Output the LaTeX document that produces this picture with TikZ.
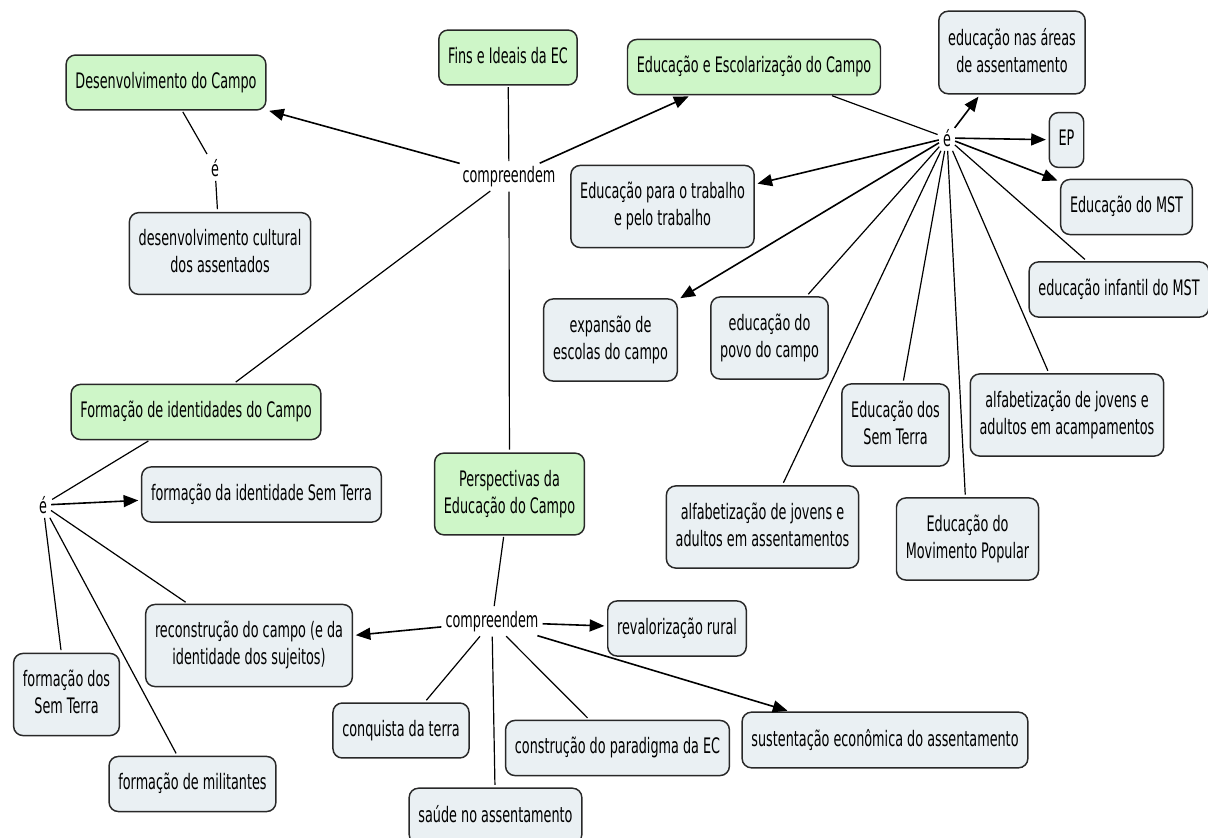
\documentclass[tikz,border=0pt]{standalone}
\usepackage{fontspec}
\setmainfont{DejaVu Sans}[FakeStretch=0.6]
\usetikzlibrary{arrows.meta}
\definecolor{cmapgreen}{RGB}{206,246,200}
\definecolor{cmapblue}{RGB}{234,240,243}
\definecolor{cmapline}{RGB}{40,40,40}
\newcommand{\mapstrut}{\vrule width 0pt height 12.3pt depth 3.7pt}
\newcommand{\mapfont}{\fontsize{16}{20.25}\selectfont}
\tikzset{
  concept/.style={draw=cmapline, line width=1.1pt, rounded corners=7pt, align=center,
    inner xsep=7pt, inner ysep=12.6pt, font=\mapfont,
    execute at begin node=\mapstrut, execute at end node=\mapstrut},
  topic/.style={concept, fill=cmapgreen},
  leaf/.style={concept, fill=cmapblue},
  phrase/.style={inner sep=2pt, font=\mapfont},
  link/.style={draw=black, line width=0.9pt, shorten >=2pt, shorten <=1pt},
  linkto/.style={link, line width=1.2pt, -{Triangle[length=11pt,width=9pt]}}
}
\begin{document}
\begin{tikzpicture}[x=0.75pt,y=0.75pt,yscale=-1,xscale=1]
\useasboundingbox (0,0) rectangle (1208,838);
\clip (0,0) rectangle (1208,838);
%Topics
\node [topic] (desenv) at (166,82.5) {Desenvolvimento do Campo};
\node [topic] (fins) at (508,57.5) {Fins e Ideais da EC};
\node [topic] (escolar) at (754,67) {Educação e Escolarização do Campo};
\node [topic] (formid) at (196,412) {Formação de identidades do Campo};
\node [topic] (perspec) at (509.5,494) {Perspectivas da\\Educação do Campo};
%Linking phrases
\node [phrase] (compA) at (509,177) {compreendem};
\node [phrase] (eA) at (215,168) {é};
\node [phrase] (eB) at (947,138) {é};
\node [phrase] (eC) at (43,505) {é};
\node [phrase] (compB) at (492,622) {compreendem};
%Concepts
\node [leaf] (cultural) at (220,253.5) {desenvolvimento cultural\\dos assentados};
\node [leaf] (areas) at (1012,52.5) {educação nas áreas\\de assentamento};
\node [leaf] (ep) at (1066.5,140) {EP};
\node [leaf] (mst) at (1126.5,207) {Educação do MST};
\node [leaf] (infantil) at (1119,289.5) {educação infantil do MST};
\node [leaf] (trabalho) at (662.5,206.5) {Educação para o trabalho\\e pelo trabalho};
\node [leaf] (expansao) at (610.5,340) {expansão de\\escolas do campo};
\node [leaf] (povo) at (769.5,338) {educação do\\povo do campo};
\node [leaf] (semterra) at (895.5,425) {Educação dos\\Sem Terra};
\node [leaf] (acamp) at (1067,415) {alfabetização de jovens e\\adultos em acampamentos};
\node [leaf] (movpop) at (967.5,539) {Educação do\\Movimento Popular};
\node [leaf] (assent) at (762.5,527) {alfabetização de jovens e\\adultos em assentamentos};
\node [leaf] (identsem) at (261.5,494.5) {formação da identidade Sem Terra};
\node [leaf] (reconst) at (249,645.5) {reconstrução do campo (e da\\identidade dos sujeitos)};
\node [leaf] (formsem) at (66.5,694.5) {formação dos\\Sem Terra};
\node [leaf] (militantes) at (192.5,784) {formação de militantes};
\node [leaf] (revalor) at (677,628.5) {revalorização rural};
\node [leaf] (conquista) at (401,730.5) {conquista da terra};
\node [leaf] (paradigma) at (617.5,748) {construção do paradigma da EC};
\node [leaf] (sustent) at (885,740) {sustentação econômica do assentamento};
\node [leaf] (saude) at (495.5,816) {saúde no assentamento};
%Lines from Fins e Ideais
\draw [link] (fins) -- (compA);
\draw [linkto] (compA) -- (desenv);
\draw [linkto] (compA) -- (escolar);
\draw [link] (compA) -- (formid);
\draw [link] (compA) -- (perspec);
%Lines from Desenvolvimento
\draw [link] (desenv) -- (eA);
\draw [link] (eA) -- (cultural);
%Lines from Escolarizacao
\draw [link] (escolar) -- (eB);
\draw [linkto] (eB) -- (areas);
\draw [linkto] (eB) -- (ep);
\draw [linkto] (eB) -- (mst);
\draw [linkto] (eB) -- (trabalho);
\draw [linkto] (eB) -- (expansao);
\draw [link] (eB) -- (infantil);
\draw [link] (eB) -- (povo);
\draw [link] (eB) -- (assent);
\draw [link] (eB) -- (semterra);
\draw [link] (eB) -- (movpop);
\draw [link] (eB) -- (acamp);
%Lines from Formacao de identidades
\draw [link] (formid) -- (eC);
\draw [linkto] (eC) -- (identsem);
\draw [link] (eC) -- (reconst);
\draw [link] (eC) -- (formsem);
\draw [link] (eC) -- (militantes);
%Lines from Perspectivas
\draw [link] (perspec) -- (compB);
\draw [linkto] (compB) -- (reconst);
\draw [linkto] (compB) -- (revalor);
\draw [linkto] (compB) -- (sustent);
\draw [link] (compB) -- (conquista);
\draw [link] (compB) -- (saude);
\draw [link] (compB) -- (paradigma);
\end{tikzpicture}
\end{document}
